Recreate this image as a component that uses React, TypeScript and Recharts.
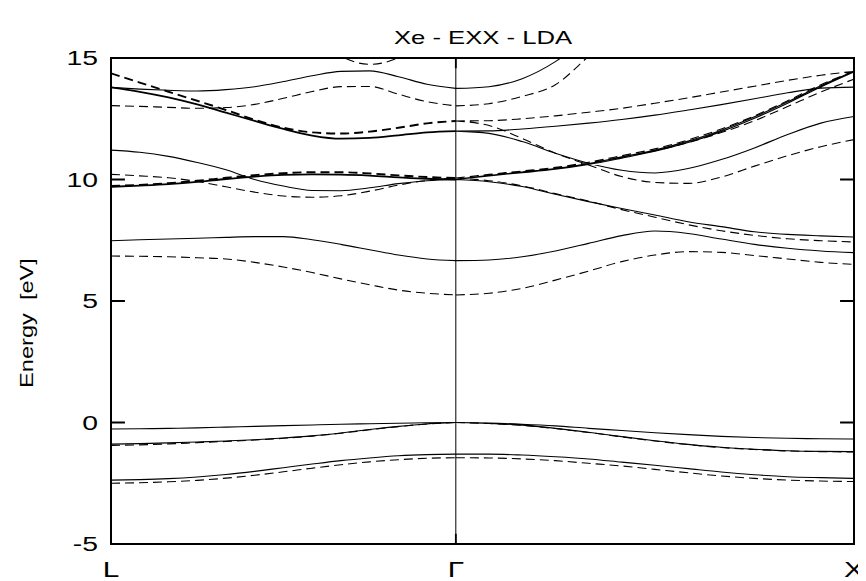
import React from 'react';
import { LineChart, Line, XAxis, YAxis, ReferenceLine } from 'recharts';

// k-path grid: L -> Gamma (|LΓ| = 0.866), Gamma -> X (|ΓX| = 1)
const kLG = [0, 0.0722, 0.1443, 0.2165, 0.2887, 0.3608, 0.433, 0.5052, 0.5773, 0.6495, 0.7217, 0.7938, 0.866];
const kGX = [0.866, 0.9493, 1.0327, 1.116, 1.1993, 1.2827, 1.366, 1.4493, 1.5327, 1.616, 1.6993, 1.7827, 1.866];

const xTicks = [0, 0.866, 1.866];
const xTickLabels = ['L', 'Γ', 'X'];
const yTicks = [-5, 0, 5, 10, 15];
const title = 'Xe - EXX - LDA';
const yLabel = 'Energy  [eV]';

// ---- L -> Gamma, solid bands (eV)
const lgSolidV3 = [-2.37, -2.35, -2.31, -2.24, -2.14, -2.01, -1.86, -1.71, -1.57, -1.46, -1.37, -1.32, -1.30];
const lgSolidV2 = [-0.89, -0.87, -0.84, -0.80, -0.76, -0.71, -0.64, -0.55, -0.43, -0.29, -0.16, -0.06, 0];
const lgSolidV1 = [-0.27, -0.26, -0.24, -0.22, -0.19, -0.16, -0.13, -0.10, -0.07, -0.05, -0.03, -0.01, 0];
const lgSolidC1 = [7.48, 7.52, 7.55, 7.58, 7.62, 7.65, 7.65, 7.52, 7.33, 7.11, 6.89, 6.73, 6.66];
const lgSolidC2 = [9.70, 9.75, 9.81, 9.90, 10.02, 10.12, 10.19, 10.21, 10.20, 10.16, 10.09, 10.03, 10.00];
const lgSolidC4 = [11.21, 11.12, 10.95, 10.70, 10.40, 10.00, 9.73, 9.55, 9.54, 9.66, 9.83, 9.95, 10.00];
const lgSolidC5 = [13.79, 13.61, 13.38, 13.09, 12.75, 12.41, 12.08, 11.81, 11.68, 11.71, 11.82, 11.94, 11.99];
const lgSolidC6 = [13.79, 13.72, 13.67, 13.64, 13.70, 13.82, 14.03, 14.27, 14.45, 14.47, 14.23, 13.92, 13.75];

// ---- L -> Gamma, dashed bands (eV)
const lgDashV3 = [-2.50, -2.48, -2.44, -2.38, -2.29, -2.17, -2.03, -1.88, -1.74, -1.62, -1.53, -1.47, -1.45];
const lgDashV2 = [-0.94, -0.92, -0.88, -0.83, -0.78, -0.72, -0.65, -0.56, -0.44, -0.30, -0.17, -0.06, 0];
const lgDashC1 = [6.85, 6.84, 6.82, 6.78, 6.73, 6.59, 6.40, 6.17, 5.91, 5.67, 5.45, 5.32, 5.25];
const lgDashC2 = [9.73, 9.78, 9.85, 9.95, 10.07, 10.18, 10.26, 10.30, 10.30, 10.25, 10.17, 10.10, 10.06];
const lgDashC3 = [10.21, 10.15, 10.07, 9.92, 9.70, 9.48, 9.32, 9.27, 9.33, 9.52, 9.77, 9.96, 10.06];
const lgDashC4 = [14.37, 13.99, 13.61, 13.24, 12.86, 12.46, 12.13, 11.94, 11.89, 11.97, 12.13, 12.31, 12.41];
const lgDashC5 = [13.04, 13.01, 12.97, 12.93, 12.96, 13.09, 13.34, 13.62, 13.82, 13.83, 13.51, 13.20, 13.03];
const lgDashC6 = [null, null, null, null, null, null, null, 16.0, 15.08, 14.74, 15.01, 15.85, 17.2];

// ---- Gamma -> X, solid bands (eV)
const gxSolidV3 = [-1.30, -1.30, -1.34, -1.41, -1.50, -1.63, -1.76, -1.90, -2.04, -2.15, -2.23, -2.27, -2.30];
const gxSolidV2 = [0, -0.04, -0.11, -0.24, -0.40, -0.58, -0.75, -0.90, -1.02, -1.10, -1.16, -1.19, -1.20];
const gxSolidV1 = [0, -0.02, -0.07, -0.14, -0.24, -0.33, -0.42, -0.50, -0.57, -0.62, -0.65, -0.67, -0.68];
const gxSolidC1 = [6.66, 6.69, 6.82, 7.06, 7.37, 7.69, 7.88, 7.78, 7.55, 7.33, 7.17, 7.06, 6.99];
const gxSolidC2 = [10.00, 9.91, 9.71, 9.39, 9.09, 8.81, 8.54, 8.26, 8.06, 7.85, 7.74, 7.68, 7.63];
const gxSolidC3a = [10.00, 10.17, 10.31, 10.45, 10.66, 10.93, 11.21, 11.58, 12.03, 12.58, 13.20, 13.86, 14.45];
const gxSolidC3b = [10.00, 10.15, 10.28, 10.42, 10.62, 10.88, 11.16, 11.52, 11.97, 12.52, 13.14, 13.81, 14.43];
const gxSolidC5a = [11.99, 11.90, 11.56, 11.08, 10.67, 10.38, 10.27, 10.45, 10.82, 11.30, 11.85, 12.32, 12.59];
const gxSolidC5b = [11.99, 12.00, 12.08, 12.19, 12.32, 12.47, 12.65, 12.86, 13.08, 13.32, 13.57, 13.76, 13.80];
const gxSolidC6 = [13.75, 13.82, 14.15, 14.85, 15.9, null, null, null, null, null, null, null, null];

// ---- Gamma -> X, dashed bands (eV)
const gxDashV3 = [-1.45, -1.46, -1.50, -1.57, -1.68, -1.79, -1.93, -2.07, -2.20, -2.30, -2.37, -2.41, -2.43];
const gxDashV2 = [0, -0.04, -0.12, -0.25, -0.41, -0.59, -0.76, -0.91, -1.03, -1.11, -1.17, -1.20, -1.21];
const gxDashC1 = [5.25, 5.32, 5.52, 5.86, 6.23, 6.62, 6.89, 7.03, 7.00, 6.87, 6.73, 6.59, 6.51];
const gxDashC2 = [10.06, 9.95, 9.74, 9.42, 9.11, 8.76, 8.45, 8.14, 7.89, 7.70, 7.56, 7.48, 7.43];
const gxDashC3a = [10.06, 10.21, 10.35, 10.50, 10.71, 10.98, 11.26, 11.63, 12.08, 12.62, 13.24, 13.90, 14.46];
const gxDashC3b = [10.06, 10.19, 10.32, 10.46, 10.66, 10.92, 11.18, 11.52, 11.93, 12.42, 13.00, 13.60, 14.13];
const gxDashC4a = [12.41, 12.22, 11.69, 11.08, 10.60, 10.12, 9.88, 9.84, 10.10, 10.55, 10.98, 11.35, 11.64];
const gxDashC4b = [12.41, 12.42, 12.50, 12.62, 12.77, 12.93, 13.14, 13.36, 13.60, 13.84, 14.08, 14.29, 14.45];
const gxDashC5 = [13.03, 13.12, 13.42, 13.90, 15.07, 16.3, null, null, null, null, null, null, null];

type Band = { k: number[]; e: (number | null)[] };
type Pt = { k: number; e: number | null };

// groups of bands drawn with one style each (one Line per group, bands separated by gaps)
const solidThin: Band[] = [
  { k: kLG, e: lgSolidV3 }, { k: kLG, e: lgSolidV2 }, { k: kLG, e: lgSolidV1 },
  { k: kLG, e: lgSolidC1 }, { k: kLG, e: lgSolidC4 }, { k: kLG, e: lgSolidC6 },
  { k: kGX, e: gxSolidV3 }, { k: kGX, e: gxSolidV2 }, { k: kGX, e: gxSolidV1 },
  { k: kGX, e: gxSolidC1 }, { k: kGX, e: gxSolidC2 }, { k: kGX, e: gxSolidC3a },
  { k: kGX, e: gxSolidC3b }, { k: kGX, e: gxSolidC5a }, { k: kGX, e: gxSolidC5b },
  { k: kGX, e: gxSolidC6 },
];
const solidThick: Band[] = [{ k: kLG, e: lgSolidC2 }, { k: kLG, e: lgSolidC5 }];
const dashedThin: Band[] = [
  { k: kLG, e: lgDashV3 }, { k: kLG, e: lgDashV2 }, { k: kLG, e: lgDashC1 },
  { k: kLG, e: lgDashC3 }, { k: kLG, e: lgDashC5 }, { k: kLG, e: lgDashC6 },
  { k: kGX, e: gxDashV3 }, { k: kGX, e: gxDashV2 }, { k: kGX, e: gxDashC1 },
  { k: kGX, e: gxDashC2 }, { k: kGX, e: gxDashC3a }, { k: kGX, e: gxDashC3b },
  { k: kGX, e: gxDashC4a }, { k: kGX, e: gxDashC4b }, { k: kGX, e: gxDashC5 },
];
const dashedThick: Band[] = [{ k: kLG, e: lgDashC2 }, { k: kLG, e: lgDashC4 }];

const toPts = (b: Band): Pt[] =>
  b.k.map((k, i) => ({ k, e: b.e[i] })).filter((d) => d.e !== null && d.e !== undefined);

const joinBands = (list: Band[]): Pt[] =>
  list.flatMap((b) => {
    const pts = toPts(b);
    return [...pts, { k: pts[pts.length - 1].k, e: null }];
  });

const K_MIN = xTicks[0];
const K_MAX = xTicks[xTicks.length - 1];
const E_MIN = yTicks[0];
const E_MAX = yTicks[yTicks.length - 1];
// inward tick mark lengths in axis units (≈14 px horizontal, ≈10 px vertical)
const Y_TICK_LEN = 0.035;
const X_TICK_LEN = 0.42;

const tickPts: Pt[] = [
  ...yTicks.flatMap((t) => [{ k: K_MIN, e: t }, { k: K_MIN + Y_TICK_LEN, e: t }, { k: K_MIN + Y_TICK_LEN, e: null }]),
  ...yTicks.flatMap((t) => [{ k: K_MAX - Y_TICK_LEN, e: t }, { k: K_MAX, e: t }, { k: K_MAX, e: null }]),
  ...xTicks.flatMap((t) => [{ k: t, e: E_MIN }, { k: t, e: E_MIN + X_TICK_LEN }, { k: t, e: null }]),
  ...xTicks.flatMap((t) => [{ k: t, e: E_MAX - X_TICK_LEN }, { k: t, e: E_MAX }, { k: t, e: null }]),
];

const SANS = "'Liberation Sans', Arial, Helvetica, sans-serif";

// layout
const W = 858;
const H = 573;
const MARGIN = { top: 50, right: 12, bottom: 7, left: 0 };
const Y_AXIS_W = 103;
const X_AXIS_H = 30;
const PLOT = {
  left: MARGIN.left + Y_AXIS_W,
  top: MARGIN.top,
  right: W - MARGIN.right,
  bottom: H - MARGIN.bottom - X_AXIS_H,
};

const xLabelOf = (v: number) => {
  let idx = 0;
  let best = Infinity;
  xTicks.forEach((t, i) => {
    const d = Math.abs(t - v);
    if (d < best) {
      best = d;
      idx = i;
    }
  });
  return xTickLabels[idx];
};

export default function App() {
  return (
    <div style={{ position: 'relative', width: W, height: H }}>
      <LineChart width={W} height={H} margin={MARGIN}>
        <XAxis
          type="number"
          dataKey="k"
          domain={[K_MIN, K_MAX]}
          ticks={xTicks}
          allowDataOverflow
          height={X_AXIS_H}
          axisLine={{ stroke: '#000', strokeWidth: 2 }}
          tickLine={false}
          tickMargin={11}
          interval={0}
          tickFormatter={xLabelOf}
          tick={{
            fontSize: 22,
            fill: '#000',
            fontFamily: SANS,
            style: { transform: 'scaleX(1.35)', transformBox: 'fill-box', transformOrigin: 'center' },
          }}
        />
        <YAxis
          type="number"
          domain={[E_MIN, E_MAX]}
          ticks={yTicks}
          allowDataOverflow
          width={Y_AXIS_W}
          axisLine={{ stroke: '#000', strokeWidth: 2 }}
          tickLine={false}
          tickMargin={7}
          interval={0}
          tick={{
            fontSize: 21,
            fill: '#000',
            fontFamily: SANS,
            style: { transform: 'scaleX(1.35)', transformBox: 'fill-box', transformOrigin: 'right center' },
          }}
        />
        <ReferenceLine x={xTicks[1]} stroke="#000" strokeWidth={1} />
        <Line
          data={joinBands(solidThin)}
          dataKey="e"
          type="monotone"
          stroke="#000"
          strokeWidth={1.1}
          dot={false}
          isAnimationActive={false}
        />
        <Line
          data={joinBands(solidThick)}
          dataKey="e"
          type="monotone"
          stroke="#000"
          strokeWidth={1.8}
          dot={false}
          isAnimationActive={false}
        />
        <Line
          data={joinBands(dashedThin)}
          dataKey="e"
          type="monotone"
          stroke="#000"
          strokeWidth={1.1}
          strokeDasharray="9 5"
          dot={false}
          isAnimationActive={false}
        />
        <Line
          data={joinBands(dashedThick)}
          dataKey="e"
          type="monotone"
          stroke="#000"
          strokeWidth={1.9}
          strokeDasharray="9 5"
          dot={false}
          isAnimationActive={false}
        />
        <Line
          data={tickPts}
          dataKey="e"
          type="linear"
          stroke="#000"
          strokeWidth={1.8}
          dot={false}
          isAnimationActive={false}
        />
      </LineChart>
      {/* plot frame (box around the plotting area) */}
      <div
        style={{
          position: 'absolute',
          left: PLOT.left - 1,
          top: PLOT.top - 1,
          width: PLOT.right - PLOT.left + 2,
          height: PLOT.bottom - PLOT.top + 2,
          border: '2px solid #000',
          boxSizing: 'border-box',
          pointerEvents: 'none',
        }}
      />
      <div
        style={{
          position: 'absolute',
          left: (PLOT.left + PLOT.right) / 2 - 200,
          top: 20,
          width: 400,
          textAlign: 'center',
          fontFamily: SANS,
          fontSize: 19,
          lineHeight: '19px',
          color: '#000',
          whiteSpace: 'pre',
          transform: 'scaleX(1.35)',
          transformOrigin: 'center',
          pointerEvents: 'none',
        }}
      >
        {title}
      </div>
      <div
        style={{
          position: 'absolute',
          left: 18.8 - 50,
          top: (PLOT.top + PLOT.bottom) / 2 + 22 - 9,
          width: 100,
          height: 18,
          textAlign: 'center',
          fontFamily: SANS,
          fontSize: 18,
          lineHeight: '18px',
          color: '#000',
          whiteSpace: 'pre',
          transform: 'rotate(-90deg) scaleX(1.31)',
          transformOrigin: 'center',
          pointerEvents: 'none',
        }}
      >
        {yLabel}
      </div>
    </div>
  );
}
